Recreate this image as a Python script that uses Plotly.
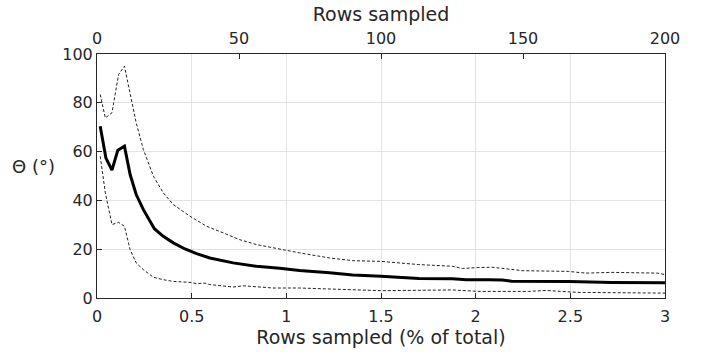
import plotly.graph_objects as go

# Sample size as a percentage of all rows (0-3 %), i.e. 0-200 rows
pct_mean = [0.017, 0.047, 0.079, 0.11, 0.145, 0.175, 0.207, 0.245, 0.303, 0.35,
            0.403, 0.465, 0.526, 0.596, 0.719, 0.842, 0.965, 1.07, 1.228, 1.351,
            1.5, 1.70, 1.877, 1.95, 2.07, 2.14, 2.19, 2.49, 2.72, 3.0]
theta_mean = [70.4, 57.4, 52.4, 60.6, 62.2, 50.6, 42.4, 36.2, 28.4, 25.3,
              22.6, 20.1, 18.2, 16.4, 14.4, 13.0, 12.2, 11.3, 10.3, 9.4,
              8.9, 8.0, 7.9, 7.5, 7.5, 7.4, 6.9, 6.8, 6.4, 6.2]

pct_upper = [0.017, 0.044, 0.079, 0.114, 0.145, 0.175, 0.207, 0.245, 0.298, 0.35,
             0.403, 0.491, 0.579, 0.666, 0.754, 0.842, 0.929, 1.0, 1.07, 1.228,
             1.351, 1.5, 1.70, 1.877, 1.93, 2.017, 2.087, 2.158, 2.245, 2.49,
             2.58, 2.72, 2.96, 3.0]
theta_upper = [83.4, 73.8, 75.9, 91.6, 95.0, 84.1, 71.8, 60.8, 49.9, 43.1,
               38.3, 33.5, 29.4, 26.7, 23.9, 21.9, 20.5, 19.6, 18.5, 16.4,
               15.3, 15.0, 13.7, 13.0, 12.1, 12.5, 12.6, 12.0, 11.2, 10.9,
               10.2, 10.5, 10.2, 9.6]

pct_lower = [0.017, 0.044, 0.079, 0.114, 0.145, 0.175, 0.207, 0.245, 0.298, 0.35,
             0.403, 0.491, 0.526, 0.57, 0.596, 0.719, 0.772, 0.842, 0.929, 1.07,
             1.228, 1.5, 1.877, 2.017, 2.28, 2.37, 2.54, 3.0]
theta_lower = [58.1, 43.1, 30.1, 31.0, 29.4, 19.8, 14.4, 11.6, 8.5, 7.5,
               6.8, 6.4, 5.9, 6.1, 5.5, 4.5, 5.0, 4.5, 4.1, 4.1,
               3.7, 3.0, 3.3, 2.7, 2.7, 3.1, 2.3, 2.0]

x_ticks = [0, 0.5, 1, 1.5, 2, 2.5, 3]
x_tick_text = ["0", "0.5", "1", "1.5", "2", "2.5", "3"]
rows_ticks = [0, 50, 100, 150, 200]
y_ticks = [0, 20, 40, 60, 80, 100]

AX = "#262626"
FONT = "DejaVu Sans"

fig = go.Figure()
band = dict(color="#222222", width=1, dash="3px,2px")
fig.add_trace(go.Scatter(x=pct_upper, y=theta_upper, mode="lines", line=band,
                         showlegend=False, hoverinfo="skip"))
fig.add_trace(go.Scatter(x=pct_lower, y=theta_lower, mode="lines", line=band,
                         showlegend=False, hoverinfo="skip"))
fig.add_trace(go.Scatter(x=pct_mean, y=theta_mean, mode="lines",
                         line=dict(color="black", width=3), showlegend=False))
# invisible trace to anchor the top (row count) axis
fig.add_trace(go.Scatter(x=[0, 200], y=[None, None], xaxis="x2", mode="lines",
                         showlegend=False, hoverinfo="skip"))

common = dict(showline=True, linecolor=AX, linewidth=1, ticks="inside",
              ticklen=5, tickcolor=AX, tickfont=dict(family=FONT, size=16, color=AX),
              zeroline=False, automargin=False)

fig.update_layout(
    width=709, height=352,
    margin=dict(l=97, r=44, t=54, b=54),
    paper_bgcolor="white", plot_bgcolor="white",
    font=dict(family=FONT, color=AX),
    xaxis=dict(range=[0, 3], tickvals=x_ticks, ticktext=x_tick_text,
               showgrid=True, gridcolor="#e3e3e3", mirror=True,
               ticklabelstandoff=4,
               title=dict(text="Rows sampled (% of total)",
                          font=dict(family=FONT, size=19, color=AX), standoff=5),
               **common),
    xaxis2=dict(range=[0, 200], tickvals=rows_ticks, overlaying="x", side="top",
                showgrid=False, ticklabelstandoff=3,
                title=dict(text="Rows sampled",
                           font=dict(family=FONT, size=19, color=AX), standoff=1),
                **common),
    yaxis=dict(range=[0, 100], tickvals=y_ticks, showgrid=True,
               gridcolor="#e3e3e3", mirror=True, **common),
    annotations=[dict(text="Θ (°)", xref="paper", yref="paper", x=-0.07, y=0.538,
                      xanchor="right", yanchor="middle", showarrow=False,
                      font=dict(family=FONT, size=18, color=AX))],
)

fig.write_html("out.html")
